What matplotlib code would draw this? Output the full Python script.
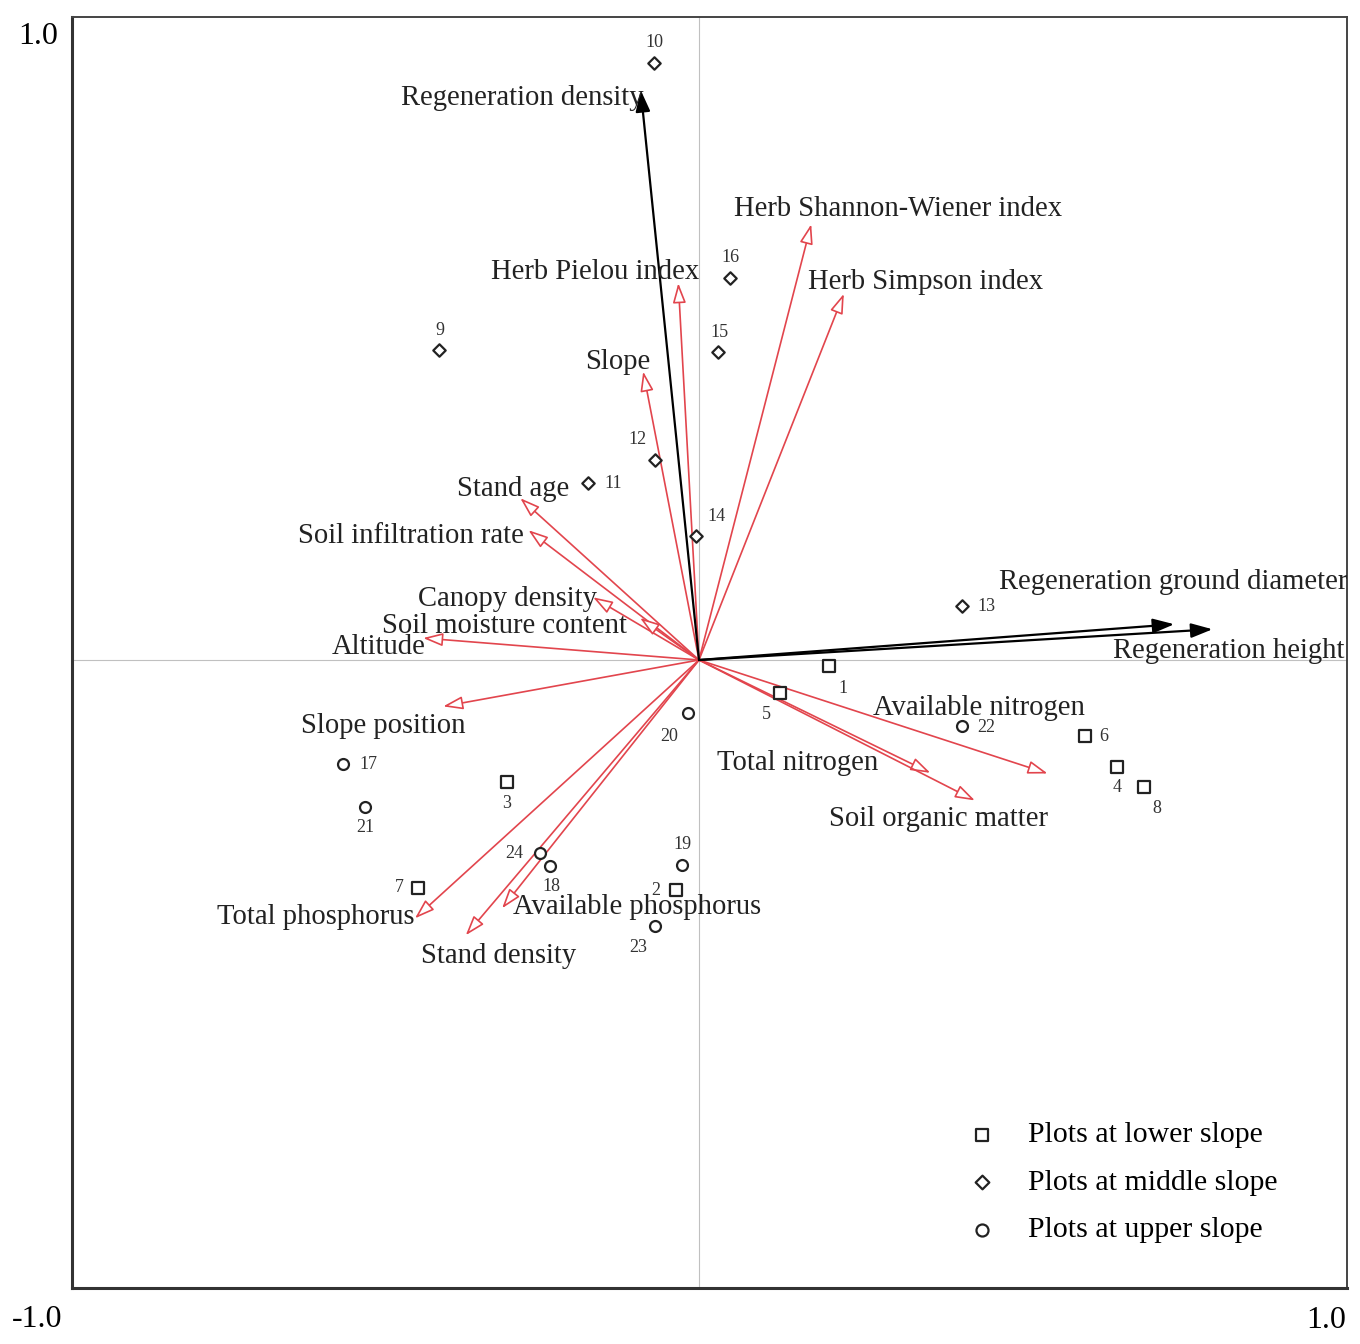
import matplotlib
matplotlib.use("Agg")
import matplotlib.pyplot as plt

plt.rcParams['font.family'] = ['Liberation Serif', 'DejaVu Serif']

# response variables (black arrows)
resp_names = ["Regeneration density", "Regeneration ground diameter", "Regeneration height"]
resp_x = [-0.093, 0.758, 0.819]
resp_y = [0.909, 0.057, 0.049]

# explanatory variables (red arrows)
env_names = ["Herb Shannon-Wiener index", "Herb Simpson index", "Herb Pielou index", "Slope",
             "Stand age", "Soil infiltration rate", "Canopy density", "Soil moisture content",
             "Altitude", "Slope position", "Available nitrogen", "Total nitrogen",
             "Soil organic matter", "Total phosphorus", "Available phosphorus", "Stand density"]
env_x = [0.179, 0.231, -0.033, -0.089, -0.285, -0.272, -0.169, -0.094,
         -0.440, -0.408, 0.556, 0.369, 0.440, -0.453, -0.314, -0.372]
env_y = [0.695, 0.584, 0.601, 0.460, 0.258, 0.207, 0.100, 0.067,
         0.035, -0.074, -0.181, -0.180, -0.224, -0.412, -0.396, -0.439]

# sample plots
lower_ids = [1, 2, 3, 4, 5, 6, 7, 8]
lower_x = [0.207, -0.037, -0.306, 0.667, 0.129, 0.615, -0.448, 0.710]
lower_y = [-0.010, -0.367, -0.194, -0.170, -0.053, -0.122, -0.364, -0.203]

middle_ids = [9, 10, 11, 12, 13, 14, 15, 16]
middle_x = [-0.414, -0.072, -0.177, -0.070, 0.419, -0.004, 0.030, 0.049]
middle_y = [0.494, 0.952, 0.282, 0.319, 0.086, 0.197, 0.491, 0.609]

upper_ids = [17, 18, 19, 20, 21, 22, 23, 24]
upper_x = [-0.568, -0.237, -0.027, -0.017, -0.532, 0.419, -0.070, -0.254]
upper_y = [-0.166, -0.328, -0.327, -0.085, -0.234, -0.106, -0.425, -0.308]

legend_labels = ["Plots at lower slope", "Plots at middle slope", "Plots at upper slope"]

# where the arrow names sit (x, y, ha)
name_pos = {
    "Regeneration density": (-0.089, 0.903, 'right'),
    "Regeneration ground diameter": (0.478, 0.131, 'left'),
    "Regeneration height": (0.661, 0.021, 'left'),
    "Herb Shannon-Wiener index": (0.056, 0.726, 'left'),
    "Herb Simpson index": (0.174, 0.609, 'left'),
    "Herb Pielou index": (-0.332, 0.625, 'left'),
    "Slope": (-0.182, 0.482, 'left'),
    "Stand age": (-0.386, 0.280, 'left'),
    "Soil infiltration rate": (-0.639, 0.205, 'left'),
    "Canopy density": (-0.448, 0.104, 'left'),
    "Soil moisture content": (-0.506, 0.061, 'left'),
    "Altitude": (-0.586, 0.027, 'left'),
    "Slope position": (-0.635, -0.098, 'left'),
    "Available nitrogen": (0.278, -0.070, 'left'),
    "Total nitrogen": (0.029, -0.157, 'left'),
    "Soil organic matter": (0.208, -0.247, 'left'),
    "Total phosphorus": (-0.769, -0.404, 'left'),
    "Available phosphorus": (-0.297, -0.388, 'left'),
    "Stand density": (-0.443, -0.465, 'left'),
}

# offsets of the plot numbers, in pixels (right, up)
num_off = {1: (14, -22), 2: (-20, 0), 3: (-1, -22), 4: (0, -21), 5: (-14, -21), 6: (19, 0),
           7: (-19, 1), 8: (13, -21), 9: (0, 20), 10: (1, 21), 11: (25, 0), 12: (-18, 20),
           13: (25, 0), 14: (20, 20), 15: (2, 20), 16: (1, 21), 17: (26, 0), 18: (1, -21),
           19: (0, 21), 20: (-19, -23), 21: (0, -21), 22: (25, -1), 23: (-17, -21), 24: (-25, 0)}

red = '#e2454d'
fs = 20.6

fig = plt.figure(figsize=(13.6, 13.44), dpi=100)
ax = fig.add_axes([72/1360, 56/1344, 1275/1360, 1271/1344])
ax.set_xlim(-1.0, 1.0335)
ax.set_ylim(-1.0016, 1.0255)

ax.axhline(0, color='#c0c0c0', lw=0.8, zorder=1)
ax.axvline(0, color='#c0c0c0', lw=0.8, zorder=1)

for x, y in zip(env_x, env_y):
    ax.annotate('', xy=(x, y), xytext=(0, 0),
                arrowprops=dict(arrowstyle='-|>,head_length=0.6,head_width=0.2', mutation_scale=20,
                                fc='white', ec=red, lw=1.2, shrinkA=0, shrinkB=0), zorder=3)
for x, y in zip(resp_x, resp_y):
    ax.annotate('', xy=(x, y), xytext=(0, 0),
                arrowprops=dict(arrowstyle='-|>,head_length=0.65,head_width=0.22', mutation_scale=20,
                                fc='black', ec='black', lw=1.6, shrinkA=0, shrinkB=0), zorder=4)

for name in resp_names + env_names:
    tx, ty, ha = name_pos[name]
    ax.annotate(name, xy=(tx, ty), xytext=(0, -3), textcoords='offset points',
                fontsize=fs, ha=ha, va='center', color='#222222', annotation_clip=False,
                clip_on=True, zorder=5)

sq = ax.scatter(lower_x, lower_y, marker='s', s=72, facecolors='white', edgecolors='#222222', linewidths=1.6, zorder=6)
di = ax.scatter(middle_x, middle_y, marker='D', s=40, facecolors='white', edgecolors='#222222', linewidths=1.6, zorder=6)
ci = ax.scatter(upper_x, upper_y, marker='o', s=62, facecolors='white', edgecolors='#222222', linewidths=1.6, zorder=6)

for ids, xs, ys in [(lower_ids, lower_x, lower_y), (middle_ids, middle_x, middle_y), (upper_ids, upper_x, upper_y)]:
    for i, x, y in zip(ids, xs, ys):
        ox, oy = num_off[i]
        ax.annotate(str(i), xy=(x, y), xytext=(ox * 0.72, oy * 0.72), textcoords='offset points',
                    fontsize=13, ha='center', va='center', color='#333333', zorder=6)

ax.legend([sq, di, ci], legend_labels, loc='upper left', bbox_to_anchor=(0.7027, 0.1310),
          frameon=False, fontsize=21.5, borderpad=0, borderaxespad=0, handlelength=0.95,
          handletextpad=1.05, labelspacing=0.69, scatterpoints=1, markerscale=1.1)

ax.set_xticks([1.0])
ax.set_xticklabels(['1.0'])
ax.set_yticks([1.0])
ax.set_yticklabels(['1.0'])
ax.tick_params(length=0, labelsize=23)
ax.tick_params(axis='x', pad=13)
ax.tick_params(axis='y', pad=10)
ax.annotate('-1.0', xy=(0, 0), xycoords='axes fraction', xytext=(-25, -23), textcoords='offset points',
            fontsize=23, ha='center', va='center')

for side in ['left', 'bottom']:
    ax.spines[side].set_linewidth(2.2)
    ax.spines[side].set_color('#333333')
for side in ['top', 'right']:
    ax.spines[side].set_linewidth(1.4)
    ax.spines[side].set_color('#444444')

fig.savefig('out.png', dpi=100)
